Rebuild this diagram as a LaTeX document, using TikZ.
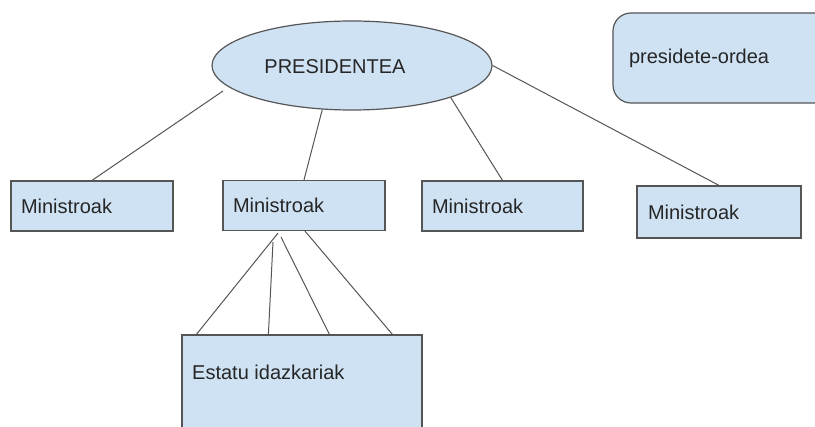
\documentclass[tikz,border=0pt]{standalone}
\usepackage{fontspec}
\setmainfont{Liberation Sans}
\usetikzlibrary{shapes.geometric,calc}
\definecolor{boxfill}{HTML}{CFE2F3}
\definecolor{boxline}{HTML}{555555}
\definecolor{txt}{HTML}{262626}
\tikzset{
  x=1pt, y=-1pt,
  lbl/.style={font=\fontsize{20}{24}\selectfont, text=txt},
  minbox/.style={draw=boxline, fill=boxfill, line width=1.2pt, rectangle,
    minimum height=50pt, inner xsep=10pt, align=left, lbl},
  conn/.style={draw=boxline, line width=1pt},
}
\begin{document}
\begin{tikzpicture}
\useasboundingbox (0,0) rectangle (815,427);
\clip (0,0) rectangle (815,427);
% president
\node[ellipse, draw=boxline, fill=boxfill, line width=1.2pt,
      minimum width=280pt, minimum height=89pt, inner sep=0pt] (pres) at (352,65.5) {};
\node[lbl, inner sep=0pt] (prestext) at (335,67) {PRESIDENTEA};
% vice president
\node[draw=boxline, fill=boxfill, line width=1.2pt, rounded corners=18pt,
      minimum width=227pt, minimum height=90pt, inner xsep=16pt, text width=195pt,
      align=left, lbl] (vice) at (726.5,58) {presidete-ordea};
% ministers
\node[minbox, text width=142pt] (m1) at (92,206) {Ministroak};
\node[minbox, text width=142pt] (m2) at (304,205.5) {Ministroak};
\node[minbox, text width=141pt] (m3) at (502.5,206) {Ministroak};
\node[minbox, text width=142pt, minimum height=52pt, inner xsep=11pt] (m4) at (719,212) {Ministroak};
% state secretaries
\node[draw=boxline, fill=boxfill, line width=1.2pt, rectangle,
      minimum width=240pt, minimum height=110pt] (est) at (302,390) {};
\node[lbl, anchor=west, inner sep=0pt] (esttext) at (192,372) {Estatu idazkariak};
% connectors
\coordinate (p1) at ($(pres.center)+(-129,25.5)$);
\draw[conn] (p1) -- (m1.north);
\draw[conn] (pres.236) -- (m2.north);
\draw[conn] (pres.342) -- (m3.north);
\draw[conn] (pres.east) -- (m4.north);
\coordinate (s1) at ($(m2.south)+(-26,2)$);
\coordinate (s2) at ($(m2.south)+(-31,11)$);
\coordinate (s3) at ($(m2.south)+(-23,6)$);
\coordinate (s4) at ($(m2.south)+(1,0)$);
\draw[conn] (s1) -- ($(est.north west)+(15,0)$);
\draw[conn] (s2) -- ($(est.north west)+(87,0)$);
\draw[conn] (s3) -- ($(est.north west)+(148,0)$);
\draw[conn] (s4) -- ($(est.north west)+(211,0)$);
\end{tikzpicture}
\end{document}
